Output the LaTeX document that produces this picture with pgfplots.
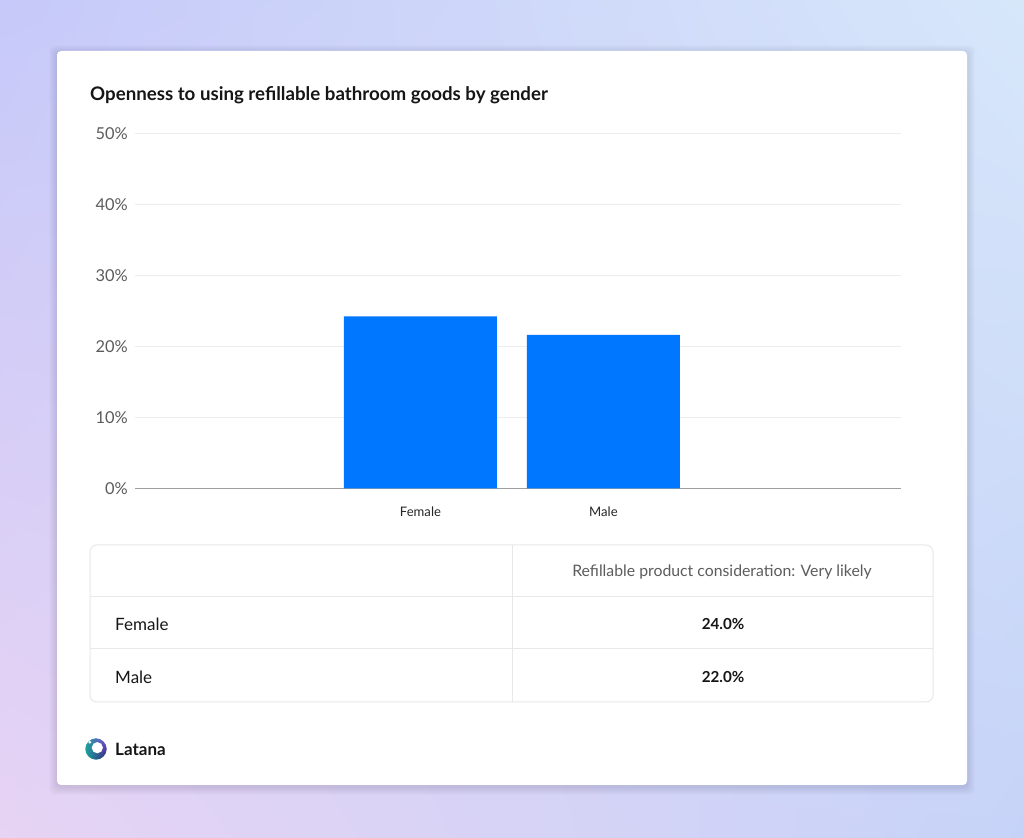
\documentclass[border=0pt]{standalone}
\usepackage{fontspec}
\setmainfont{Lato}
\usepackage{pgfplots}
\pgfplotsset{compat=1.18}
\usetikzlibrary{shadings}
\definecolor{barblue}{HTML}{0077FF}
\definecolor{bgul}{HTML}{C6C9F9}
\definecolor{bgur}{HTML}{D7E7FA}
\definecolor{bgll}{HTML}{E7D3F4}
\definecolor{bglr}{HTML}{C6D3F8}
\definecolor{gridc}{HTML}{EDEDED}
\definecolor{tablec}{HTML}{E8E8E8}
\definecolor{tickc}{HTML}{5C5C5C}
\definecolor{titlec}{HTML}{161616}
\definecolor{logoA}{HTML}{8A45DC}
\definecolor{logoB}{HTML}{17A39A}
\definecolor{logoC}{HTML}{2A1F6E}
\pgfplotstableread{
x y
0 24.2
1 21.6
}\bardata
\begin{document}
\begin{tikzpicture}[x=1pt,y=1pt]
% background
\shade[upper left=bgul, upper right=bgur, lower left=bgll, lower right=bglr] (0,0) rectangle (1024,837);
% card shadow
\foreach \i in {1,...,8}{
  \fill[black, opacity=0.010, rounded corners=6] (57-\i,50-\i) rectangle (967+\i,784+\i);
}
\fill[white, rounded corners=4] (57,52) rectangle (967,786);
% title
\node[anchor=west, inner sep=0pt, text=titlec, font=\fontsize{18.7}{22}\selectfont\bfseries] at (90,742) {Openness to using refillable bathroom goods by gender};
% chart
\begin{axis}[
  at={(135pt,348.7pt)}, anchor=south west,
  scale only axis, width=766pt, height=355pt,
  xmin=-1.560, xmax=2.626, ymin=0, ymax=50,
  axis x line=bottom, axis y line=left,
  x axis line style={draw=gray!75, line width=0.9pt, -},
  y axis line style={draw=none},
  major tick length=0pt,
  ytick={0,10,20,30,40,50},
  ymajorgrids, grid style={draw=gridc, line width=1pt},
  xtick={0,1}, xticklabels={Female, Male},
  yticklabel={\pgfmathprintnumber{\tick}\%},
  /pgf/number format/assume math mode=true,
  yticklabel style={anchor=east, inner sep=0pt, xshift=-7pt, text=tickc, font=\fontsize{16.4}{19}\selectfont},
  xticklabel style={anchor=north, inner sep=0pt, yshift=-18pt, text=black!85, font=\fontsize{13.1}{15}\selectfont},
  clip=false,
]
\addplot[ybar, bar width=153pt, fill=barblue, draw=none] table[x=x, y=y] {\bardata};
\end{axis}
% table
\draw[tablec, line width=1pt] (90,240) -- (933,240);
\draw[tablec, line width=1pt] (90,188) -- (933,188);
\draw[tablec, line width=1pt] (512,135) -- (512,292);
\draw[tablec, line width=1pt, rounded corners=7] (90,135) rectangle (933,292);
\node[text=tickc, inner sep=0pt, font=\fontsize{15.8}{18}\selectfont] at (722,264.5) {Refillable product consideration: Very likely};
\node[anchor=west, inner sep=0pt, text=titlec, font=\fontsize{17}{20}\selectfont] at (115,212.5) {Female};
\node[anchor=west, inner sep=0pt, text=titlec, font=\fontsize{17}{20}\selectfont] at (115,159.5) {Male};
\node[inner sep=0pt, text=titlec, font=\fontsize{15.2}{18}\selectfont\bfseries] at (723,212.5) {24.0\%};
\node[inner sep=0pt, text=titlec, font=\fontsize{15.2}{18}\selectfont\bfseries] at (723,159.5) {22.0\%};
% logo
\shade[upper left=logoB, upper right=logoA, lower left=logoB, lower right=logoC] (85,77) rectangle (107,99);
\fill[white, even odd rule] (80,72) rectangle (112,104) (96,88) circle (10.8);
\fill[white] (97.3,89.3) circle (5.6);
\fill[white] (89.8,94.8) circle (1.6);
\node[anchor=west, inner sep=0pt, text=titlec, font=\fontsize{17}{20}\selectfont\bfseries] at (115,88) {Latana};
\end{tikzpicture}
\end{document}
